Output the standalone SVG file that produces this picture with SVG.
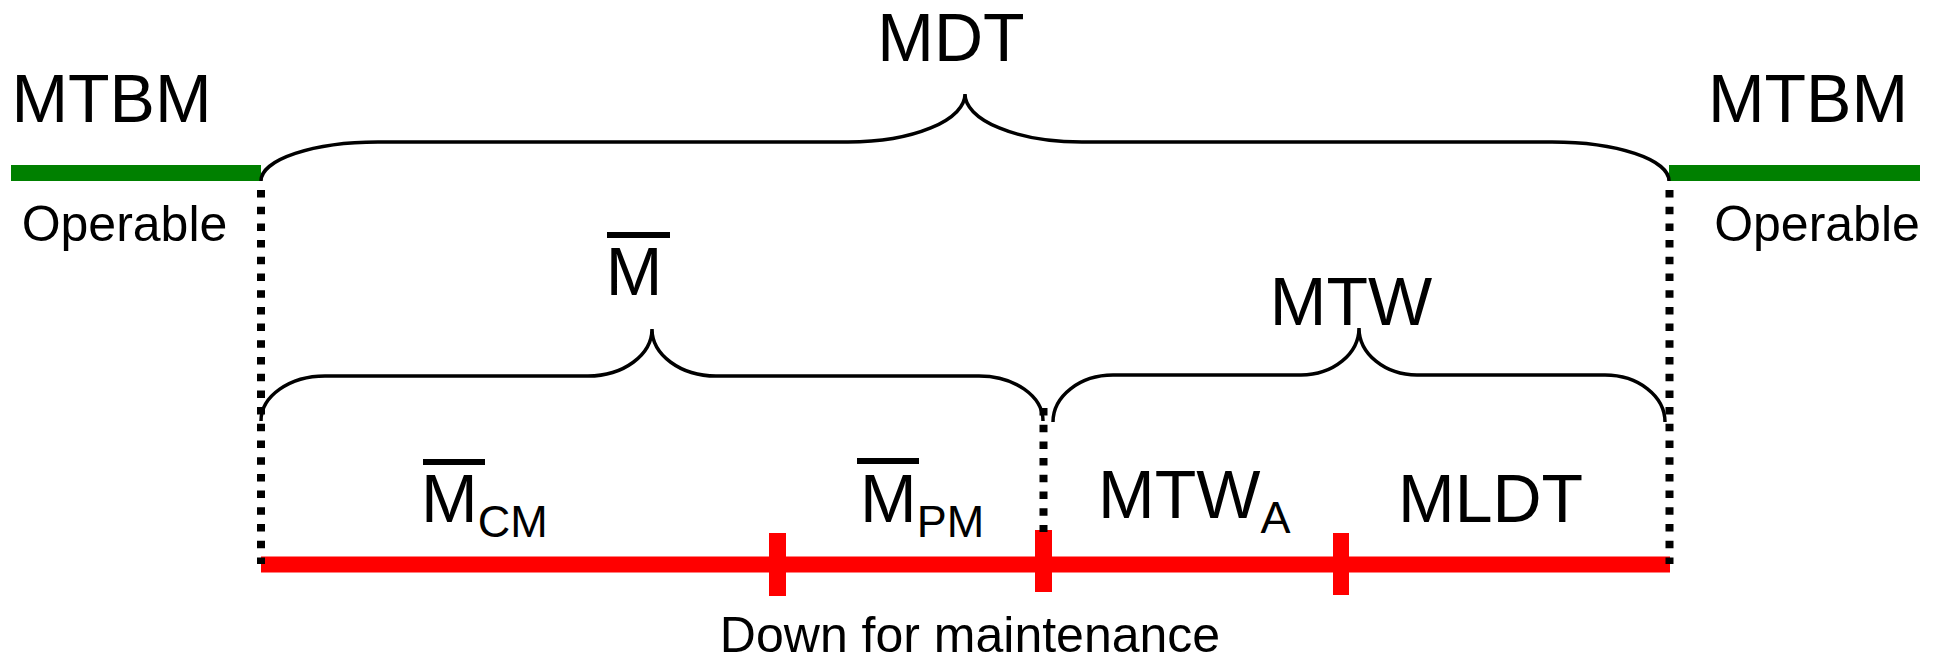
<svg xmlns="http://www.w3.org/2000/svg" width="1942" height="660" viewBox="0 0 1942 660">
  <style>
    text { font-family: "Liberation Sans", Arial, sans-serif; fill: #000; }
    .big { font-size: 68px; }
    .small { font-size: 50px; }
    .sub { font-size: 45px; }
    .brace { fill: none; stroke: #000; stroke-width: 3.5; }
    .dots { fill: none; stroke: #000; stroke-width: 8; stroke-dasharray: 7.5 9.2; }
    .up { stroke: #008000; stroke-width: 16; }
    .down { stroke: #ff0000; stroke-width: 16; }
    .tick { fill: #ff0000; }
    .bar { fill: #000; }
  </style>

  <!-- timeline: operable periods (green) and down time (red) -->
  <g id="timeline">
    <line class="up" x1="11" y1="173" x2="261" y2="173"/>
    <line class="up" x1="1669" y1="173" x2="1920" y2="173"/>
    <line class="down" x1="261" y1="564.5" x2="1670" y2="564.5"/>
    <rect class="tick" x="769" y="533" width="17" height="63"/>
    <rect class="tick" x="1035" y="530" width="17" height="62"/>
    <rect class="tick" x="1333" y="533" width="16" height="62"/>
  </g>

  <!-- braces and dotted boundary lines -->
  <g id="connectors">
    <path class="dots" d="M261 190 V564"/>
    <path class="dots" d="M1043.5 408 V532"/>
    <path class="dots" d="M1669.5 190 V564"/>
    <path class="brace" d="M261 181 A117 39 0 0 1 378 142 L848 142 A117 48 0 0 0 965 94 A117 48 0 0 0 1082 142 L1552 142 A117 39 0 0 1 1669 181"/>
    <path class="brace" d="M261 421 A64 45 0 0 1 325 376 L588 376 A64 47 0 0 0 652 329 A64 47 0 0 0 716 376 L979 376 A64 45 0 0 1 1043 421"/>
    <path class="brace" d="M1053 422 A60 47 0 0 1 1113 375 L1301 375 A58 47 0 0 0 1359 328 A58 47 0 0 0 1417 375 L1605 375 A60 47 0 0 1 1665 422"/>
  </g>

  <g id="mtbm-left">
    <text class="big" x="111.5" y="122" text-anchor="middle">MTBM</text>
    <text class="small" x="124.5" y="241" text-anchor="middle">Operable</text>
  </g>

  <g id="mtbm-right">
    <text class="big" x="1808" y="122" text-anchor="middle">MTBM</text>
    <text class="small" x="1817" y="241" text-anchor="middle">Operable</text>
  </g>

  <g id="mdt">
    <text class="big" x="951" y="61" text-anchor="middle">MDT</text>
  </g>

  <g id="m-mean">
    <rect class="bar" x="607" y="232" width="63" height="6"/>
    <text class="big" x="634" y="295" text-anchor="middle">M</text>
  </g>

  <g id="mtw">
    <text class="big" x="1351" y="325" text-anchor="middle">MTW</text>
  </g>

  <g id="m-cm">
    <rect class="bar" x="423" y="459" width="62" height="6"/>
    <text class="big" x="421" y="522">M<tspan class="sub" dy="15">CM</tspan></text>
  </g>

  <g id="m-pm">
    <rect class="bar" x="857" y="458" width="62" height="6"/>
    <text class="big" x="860" y="522">M<tspan class="sub" dy="15">PM</tspan></text>
  </g>

  <g id="mtw-a">
    <text class="big" x="1098" y="518">MTW<tspan class="sub" dy="15">A</tspan></text>
  </g>

  <g id="mldt">
    <text class="big" x="1398" y="522">MLDT</text>
  </g>

  <g id="maintenance">
    <text class="small" x="970" y="652" text-anchor="middle">Down for maintenance</text>
  </g>
</svg>
